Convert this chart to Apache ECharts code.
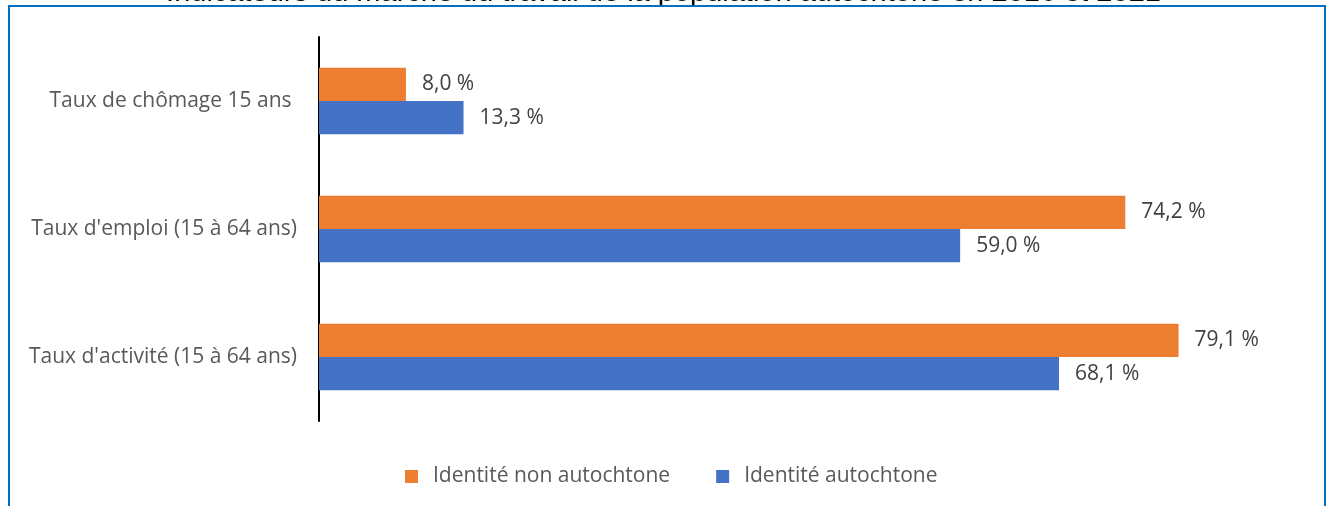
<!DOCTYPE html>
<html>
  <head>
    <meta charset="utf-8">
    <title>Indicateurs du marché du travail</title>
    <script src="https://cdn.jsdelivr.net/npm/echarts@6/dist/echarts.min.js"></script>
    <style>
      html, body { margin: 0; padding: 0; background: #fff; }
      #chart { width: 1327px; height: 506px; }
    </style>
  </head>
  <body>
    <div id="chart"></div>
    <script type="text/javascript">
    // categories, bottom to top
    var categories = [
      "Taux d'activité (15 à 64 ans)",
      "Taux d'emploi (15 à 64 ans)",
      "Taux de chômage 15 ans "
    ];
    var nonAutochtone = [79.1, 74.2, 8.0];
    var autochtone = [68.1, 59.0, 13.3];

    var dom = document.getElementById("chart");
    var myChart = echarts.init(dom, null, { renderer: "canvas" });

    var labelFmt = function (p) {
      return p.value.toFixed(1).replace(".", ",") + " %";
    };
    var txtFont = "Open Sans";

    var option = {
      backgroundColor: "#fff",
      animation: false,
      title: {
        text: "Indicateurs du marché du travail de la population autochtone en 2016 et 2021",
        left: "center",
        top: -27,
        textStyle: { fontFamily: "Liberation Sans", fontSize: 29, fontWeight: "normal", color: "#000" }
      },
      graphic: [{
        type: "rect",
        shape: { x: 9, y: 6, width: 1316, height: 600 },
        style: { fill: "none", stroke: "#0070C0", lineWidth: 2 },
        z: 10
      }],
      legend: {
        data: ["Identité non autochtone", "Identité autochtone"],
        bottom: 14,
        left: 400,
        icon: "rect",
        itemWidth: 13,
        itemHeight: 13,
        itemGap: 46,
        textStyle: { fontFamily: txtFont, fontSize: 21, color: "#595959", padding: [0, 0, 0, 10] }
      },
      grid: { left: 319, right: 30, top: 37, bottom: 85, containLabel: false },
      xAxis: {
        type: "value",
        min: 0,
        max: 90,
        show: false
      },
      yAxis: {
        type: "category",
        data: categories,
        axisLine: { lineStyle: { color: "#000", width: 2 } },
        axisTick: { show: false },
        axisLabel: { margin: 22, fontFamily: txtFont, fontSize: 21, color: "#595959" }
      },
      series: [
        {
          name: "Identité non autochtone",
          type: "bar",
          data: nonAutochtone,
          barGap: "0%",
          barCategoryGap: "48%",
          itemStyle: { color: "#ED7D31" },
          label: { show: true, position: "right", distance: 16, formatter: labelFmt,
                   fontFamily: txtFont, fontSize: 21, color: "#404040" }
        },
        {
          name: "Identité autochtone",
          type: "bar",
          data: autochtone,
          barGap: "0%",
          barCategoryGap: "48%",
          itemStyle: { color: "#4472C4" },
          label: { show: true, position: "right", distance: 16, formatter: labelFmt,
                   fontFamily: txtFont, fontSize: 21, color: "#404040" }
        }
      ]
    };
    myChart.setOption(option);
    </script>
  </body>
</html>
